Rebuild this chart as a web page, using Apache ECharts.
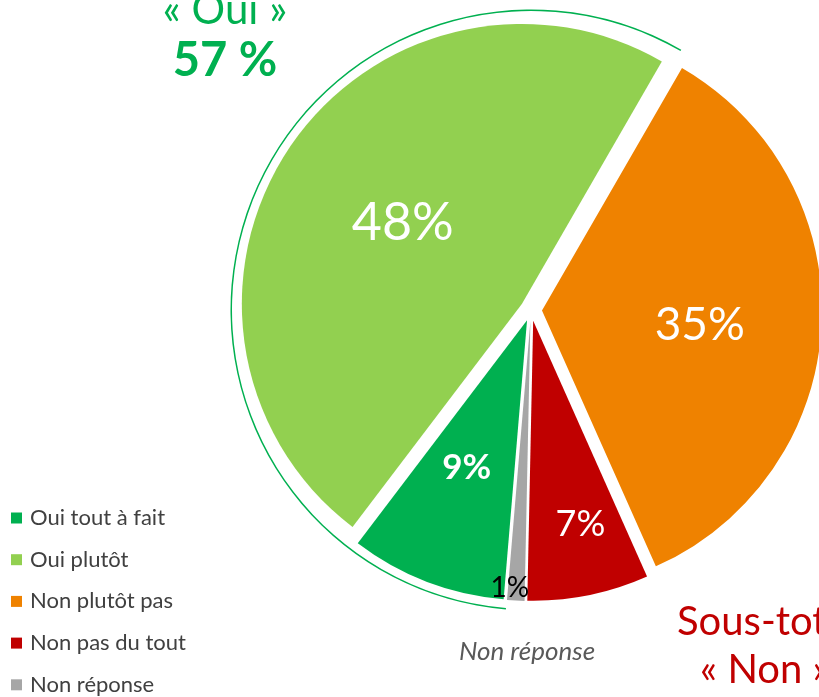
<!DOCTYPE html>
<html>
<head>
<meta charset="utf-8">
<script src="https://cdn.jsdelivr.net/npm/echarts@6/dist/echarts.min.js"></script>
<style>
html,body{margin:0;padding:0;background:#fff;}
#chart{width:819px;height:697px;}
</style>
</head>
<body>
<div id="chart"></div>
<script>
// Data (clockwise from the top-right)
const categories = ['Non plutôt pas', 'Non pas du tout', 'Non réponse', 'Oui tout à fait', 'Oui plutôt'];
const values = [35, 7, 1, 9, 48];
const legendOrder = ['Oui tout à fait', 'Oui plutôt', 'Non plutôt pas', 'Non pas du tout', 'Non réponse'];
const subtotalNames = ['Non', 'Oui'];
const subtotalValues = [43, 57];

const colors = {
  'Non plutôt pas': '#EF8200',
  'Non pas du tout': '#C00000',
  'Non réponse': '#A6A6A6',
  'Oui tout à fait': '#00B050',
  'Oui plutôt': '#92D050'
};
const labelStyle = {
  'Non plutôt pas': {fontSize: 46, color: '#fff', fontWeight: 'normal', dx: 15, dy: 7},
  'Non pas du tout': {fontSize: 36, color: '#fff', fontWeight: 'normal', dx: 19, dy: 63},
  'Non réponse': {fontSize: 28, color: '#000', fontWeight: 'normal', dx: -13, dy: 124},
  'Oui tout à fait': {fontSize: 35, color: '#fff', fontWeight: 'bold', dx: -9, dy: 14},
  'Oui plutôt': {fontSize: 52, color: '#fff', fontWeight: 'normal', dx: 0, dy: -2}
};

const FONT = 'Lato, "Open Sans", sans-serif';

const pieData = categories.map((name, i) => ({
  name: name,
  value: values[i],
  selected: true,
  itemStyle: {color: colors[name]},
  label: {
    fontSize: labelStyle[name].fontSize,
    color: labelStyle[name].color,
    fontWeight: labelStyle[name].fontWeight
  }
}));

const ringData = subtotalNames.map((name, i) => ({
  name: 'Sous-total ' + name,
  value: subtotalValues[i],
  itemStyle: {color: name === 'Oui' ? '#00B050' : 'rgba(0,0,0,0)'}
}));

const chart = echarts.init(document.getElementById('chart'), null, {renderer: 'canvas'});
chart.setOption({
  animation: false,
  backgroundColor: '#ffffff',
  legend: {
    data: legendOrder,
    orient: 'vertical',
    left: 11,
    top: 507,
    height: 195,
    padding: 0,
    itemWidth: 11,
    itemHeight: 11,
    itemGap: 19.7,
    icon: 'rect',
    selectedMode: false,
    textStyle: {fontSize: 22, color: '#404040', fontFamily: FONT, lineHeight: 22, padding: [0, 0, 0, 3]}
  },
  series: [
    {
      type: 'pie',
      silent: true,
      center: [531, 310],
      radius: [299, 300.5],
      startAngle: 60,
      clockwise: true,
      label: {show: false},
      labelLine: {show: false},
      emphasis: {disabled: true},
      data: ringData
    },
    {
      type: 'pie',
      center: [531, 310],
      radius: [0, 280],
      startAngle: 60,
      clockwise: true,
      selectedMode: 'multiple',
      selectedOffset: 11,
      avoidLabelOverlap: false,
      emphasis: {disabled: true},
      itemStyle: {borderWidth: 0},
      label: {
        show: true,
        position: 'inside',
        formatter: '{c}%',
        fontFamily: FONT
      },
      labelLine: {show: false},
      labelLayout: function (params) {
        const s = labelStyle[categories[params.dataIndex]];
        if (params.seriesIndex !== 1 || !s) return {};
        return {dx: s.dx, dy: s.dy};
      },
      data: pieData
    }
  ],
  graphic: [
    {type: 'text', x: 225, y: 10, style: {text: '« Oui »', font: '42px ' + FONT, fill: '#00B050', align: 'center', verticalAlign: 'middle'}},
    {type: 'text', x: 225, y: 61, style: {text: '57 %', font: 'bold 47px ' + FONT, fill: '#00B050', align: 'center', verticalAlign: 'middle'}},
    {type: 'text', x: 677, y: 622, style: {text: 'Sous-total', font: '40px ' + FONT, fill: '#C00000', align: 'left', verticalAlign: 'middle'}},
    {type: 'text', x: 700, y: 670, style: {text: '« Non »', font: '40px ' + FONT, fill: '#C00000', align: 'left', verticalAlign: 'middle'}},
    {type: 'text', x: 527, y: 652, style: {text: 'Non réponse', font: 'italic 26px ' + FONT, fill: '#595959', align: 'center', verticalAlign: 'middle'}}
  ]
});
</script>
</body>
</html>
